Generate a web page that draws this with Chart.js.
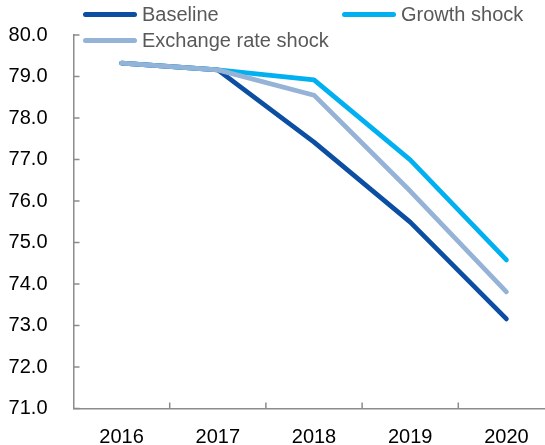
<!DOCTYPE html>
<html lang="en">
<head>
    <meta charset="UTF-8">
    <title>Scenarios 2016-2020</title>
    <script src="https://cdn.jsdelivr.net/npm/chart.js"></script>
    <style>
        html, body { margin: 0; padding: 0; background: #fff; overflow: hidden; }
        .wrap { position: relative; width: 545px; height: 445px; overflow: hidden; }
        #chart { position: absolute; left: 0; top: 0; }
        .legend-item {
            position: absolute;
            display: flex;
            align-items: center;
            white-space: nowrap;
            font-family: "Liberation Sans", Arial, sans-serif;
            font-size: 20px;
            line-height: 24px;
            color: #595959;
        }
        .legend-item .swatch {
            display: inline-block;
            width: 54px;
            height: 5px;
            border-radius: 3px;
            margin-right: 5px;
        }
    </style>
</head>
<body>
    <div class="wrap">
        <canvas id="chart" width="560" height="445"></canvas>
        <div id="legend"></div>
    </div>

    <script>
        // data
        const years = ['2016', '2017', '2018', '2019', '2020'];
        const baseline = [79.32, 79.16, 77.42, 75.49, 73.16];
        const growthShock = [79.32, 79.16, 78.92, 76.99, 74.58];
        const exchangeShock = [79.32, 79.16, 78.55, 76.24, 73.81];
        const yMin = 71;
        const yMax = 80;
        const yStep = 1;

        const seriesNames = ['Baseline', 'Growth shock', 'Exchange rate shock'];
        const seriesColors = ['#0B4EA2', '#00B0F0', '#95B3D7'];
        const legendSpots = [[83, 2], [342, 2], [83, 28]];

        const tickFont = { family: '"Liberation Sans", Arial, sans-serif', size: 20 };

        // little tick marks pointing into the plot
        const innerTicks = {
            id: 'innerTicks',
            beforeDatasetsDraw(chart) {
                const { ctx, chartArea, scales: { x, y } } = chart;
                ctx.save();
                ctx.strokeStyle = '#8c8c8c';
                ctx.lineWidth = 1.5;
                ctx.beginPath();
                y.ticks.forEach((t, i) => {
                    const py = y.getPixelForTick(i);
                    ctx.moveTo(chartArea.left, py);
                    ctx.lineTo(chartArea.left + 6, py);
                });
                for (let i = 1; i < x.ticks.length; i++) {
                    const px = (x.getPixelForTick(i - 1) + x.getPixelForTick(i)) / 2;
                    ctx.moveTo(px, chartArea.bottom);
                    ctx.lineTo(px, chartArea.bottom - 6);
                }
                ctx.stroke();
                ctx.restore();
            }
        };

        const allSeries = [baseline, growthShock, exchangeShock];
        const drawOrder = [3, 2, 1]; // exchange rate shock on top

        const chart = new Chart(document.getElementById('chart'), {
            type: 'line',
            data: {
                labels: years,
                datasets: allSeries.map((values, i) => ({
                    label: seriesNames[i],
                    data: values,
                    borderColor: seriesColors[i],
                    backgroundColor: seriesColors[i],
                    borderWidth: 4.75,
                    borderCapStyle: 'round',
                    borderJoinStyle: 'round',
                    pointRadius: 0,
                    tension: 0,
                    order: drawOrder[i]
                }))
            },
            options: {
                responsive: false,
                animation: false,
                layout: { padding: { top: 35, right: 5.5, left: 0, bottom: 0 } },
                plugins: {
                    legend: { display: false },
                    tooltip: { enabled: false }
                },
                scales: {
                    x: {
                        type: 'category',
                        offset: true,
                        grid: { display: false },
                        border: { display: true, color: '#8c8c8c', width: 1.5 },
                        ticks: {
                            color: '#000',
                            padding: 9,
                            maxRotation: 0,
                            font: tickFont
                        },
                        afterFit: s => { s.height = 36.5; }
                    },
                    y: {
                        min: yMin,
                        max: yMax,
                        grid: { display: false },
                        border: { display: true, color: '#8c8c8c', width: 1.5 },
                        ticks: {
                            stepSize: yStep,
                            color: '#000',
                            padding: 18,
                            font: tickFont,
                            callback: v => v.toFixed(1)
                        },
                        afterFit: s => { s.width = 73.5; }
                    }
                }
            },
            plugins: [innerTicks]
        });

        // legend built as html, two columns like the original
        const legendBox = document.getElementById('legend');
        seriesNames.forEach((name, i) => {
            const item = document.createElement('div');
            item.className = 'legend-item';
            item.style.left = legendSpots[i][0] + 'px';
            item.style.top = legendSpots[i][1] + 'px';
            const sw = document.createElement('span');
            sw.className = 'swatch';
            sw.style.background = seriesColors[i];
            item.appendChild(sw);
            item.appendChild(document.createTextNode(name));
            legendBox.appendChild(item);
        });
    </script>
</body>
</html>
